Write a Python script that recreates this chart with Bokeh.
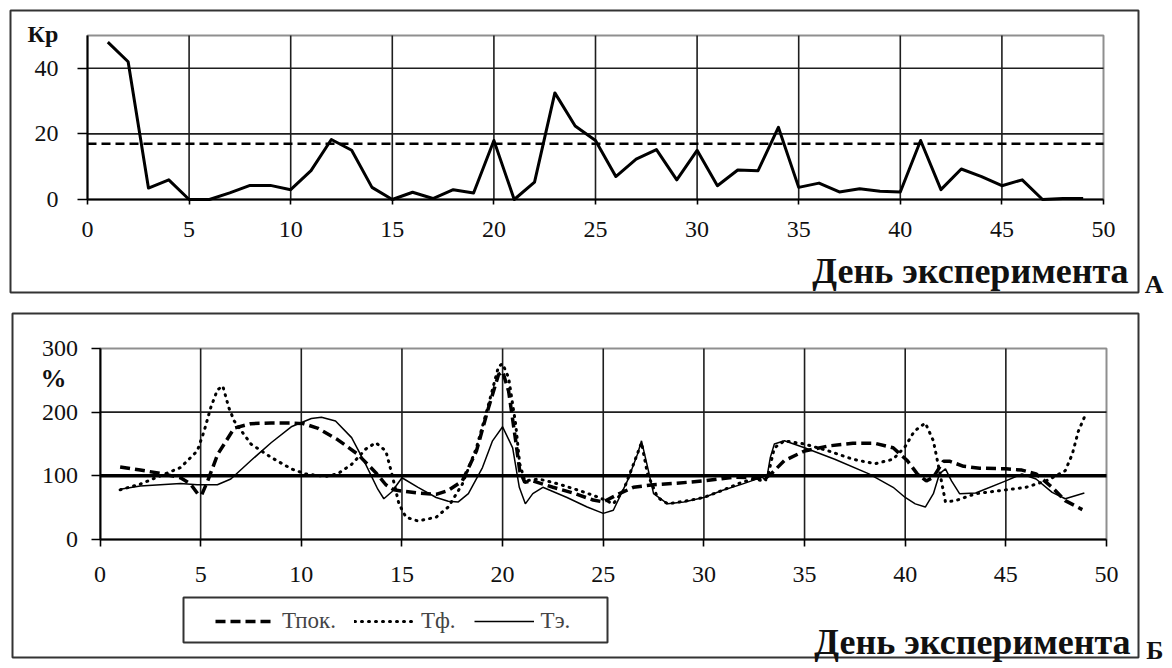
from bokeh.plotting import figure
from bokeh.models import FixedTicker, Label, BoxAnnotation, Legend, LegendItem
from bokeh.layouts import column
from bokeh.embed import file_html
from bokeh.resources import INLINE

FONT = "Liberation Serif"

# ---------------- Panel A data ----------------
days_a = list(range(1, 50))
kr = [48, 42, 3.5, 6, 0, 0, 2, 4.3, 4.3, 3,
      8.8, 18.3, 15, 3.7, 0, 2.2, 0.3, 3, 2, 18,
      0, 5.3, 32.5, 22.4, 18, 7, 12.3, 15.2, 6, 15,
      4.2, 9, 8.8, 22, 3.7, 5, 2.3, 3.3, 2.5, 2.3,
      18, 3, 9.3, 7, 4.2, 6, 0, 0.3, 0.3]
kr_threshold = 17
a_xticks = [0, 5, 10, 15, 20, 25, 30, 35, 40, 45, 50]
a_yticks = [0, 20, 40]
a_ymax = 50

# ---------------- Panel B data ----------------
tpok_day = [1, 2, 3, 4, 4.5, 4.85, 5.05, 5.35, 5.85, 6.67, 7.5, 8.5, 9.5, 10.1, 10.8,
            11.8, 12.8, 13.7, 14.2, 14.6, 15, 15.8, 16.7, 17.3, 18, 18.7, 19.3, 19.8, 20,
            20.3, 20.65, 20.85, 21.1, 21.5, 22.5, 23.5, 24.5, 25, 25.8, 26.5, 27.5, 28.5,
            30, 31.5, 32.5, 33, 33.4, 34, 35, 36.2, 37.4, 38.5, 39.4, 40.1, 40.6, 41.05,
            41.4, 41.9, 42.2, 42.9, 43.7, 45, 45.8, 46.5, 47.3, 47.95, 48.8]
tpok_val = [114, 109, 104, 97, 87, 72, 70, 92, 134, 175, 182, 183, 183, 182, 175,
            157, 134, 105, 86, 78, 76, 73, 71, 77, 92, 139, 207, 259, 264,
            233, 155, 108, 90, 92, 82, 73, 62, 59, 72, 82, 86, 88,
            92, 98, 97, 95, 105, 124, 139, 147, 151, 151, 144, 124, 103, 92,
            98, 123, 123, 115, 112, 111, 109, 103, 82, 61, 47]

tf_day = [1, 2, 3, 4, 4.83, 5.17, 5.5, 5.83, 6.1, 6.4, 6.67, 7.5, 8.5, 9.5, 10.2, 11.2,
          11.8, 12.5, 13.2, 13.7, 14.2, 14.5, 14.85, 15.2, 15.8, 16.7, 17.3, 18, 18.7,
          19.3, 19.8, 20, 20.3, 20.65, 20.85, 21.1, 21.8, 22.8, 23.8, 24.8, 25.5, 26,
          26.5, 26.9, 27.2, 27.7, 28.2, 29.2, 30, 30.9, 31.9, 32.5, 33, 33.2, 33.5, 34,
          35, 36.2, 37.4, 38.5, 39.4, 40, 40.45, 41, 41.4, 41.7, 42, 42.5, 43.5, 45, 46,
          47, 47.95, 48.3, 48.6, 48.9]
tf_val = [78, 87, 100, 113, 139, 170, 207, 235, 241, 207, 186, 150, 129, 111, 103, 99,
          103, 118, 142, 152, 139, 103, 56, 35, 29, 35, 51, 87, 144,
          212, 272, 276, 254, 181, 119, 92, 95, 87, 77, 66, 56, 77,
          118, 152, 103, 66, 56, 61, 66, 77, 90, 95, 92, 103, 144, 155,
          150, 139, 126, 119, 126, 146, 170, 183, 155, 108, 59, 61, 72, 78, 82,
          92, 108, 134, 170, 192]

te_day = [1, 2, 3, 4, 4.83, 5.83, 6.5, 7.5, 8.5, 9.5, 10.5, 11, 11.7, 12.5, 13.2, 13.8,
          14.1, 14.5, 15, 15.8, 16.7, 17.3, 17.8, 18.3, 19, 19.5, 20, 20.5, 20.83, 21.13,
          21.5, 22, 23.2, 24.2, 25, 25.5, 26.2, 26.7, 26.9, 27.2, 27.5, 28.2, 29, 30,
          30.9, 31.9, 32.9, 33.1, 33.3, 33.5, 34, 35, 36.5, 38.2, 39.4, 40, 40.5, 41,
          41.4, 41.7, 42, 42.3, 42.7, 43.5, 45, 45.8, 46.5, 47.3, 47.95, 48.9]
te_val = [79, 84, 86, 88, 86, 86, 95, 124, 152, 177, 190, 192, 186, 160, 118, 79,
          64, 75, 97, 82, 66, 60, 59, 72, 113, 155, 177, 144, 82, 56,
          72, 82, 66, 51, 41, 46, 92, 134, 155, 114, 72, 56, 59, 66,
          77, 87, 98, 92, 129, 150, 155, 144, 126, 103, 82, 66, 56, 51,
          72, 103, 111, 92, 72, 73, 92, 103, 95, 74, 64, 73]
b_ref_level = 100
b_xticks = [0, 5, 10, 15, 20, 25, 30, 35, 40, 45, 50]
b_yticks = [0, 100, 200, 300]

series_names = ["Тпок.", "Тф.", "Тэ."]
x_title = "День эксперимента"

# ---------------- layout (pixels on the page) ----------------
W = 1170
H1 = 298
H2 = 369
TOP1, TOP2 = 0, H1


class Mapper:
    """page-pixel -> data conversion for one panel"""
    def __init__(self, top, height, px0, px1, xv1, py0, py1, yv1):
        self.top, self.height = top, height
        self.px0, self.kx = px0, (px1 - px0) / xv1
        self.py0, self.ky = py0, (py0 - py1) / yv1

    def x(self, px):
        return (px - self.px0) / self.kx

    def y(self, py):
        return (self.py0 - py) / self.ky

    def xr(self):
        return (self.x(0), self.x(W))

    def yr(self):
        return (self.y(self.top + self.height), self.y(self.top))


mA = Mapper(TOP1, H1, 87, 1103, 50, 199, 35, a_ymax)
mB = Mapper(TOP2, H2, 99.5, 1106, 50, 539, 348, b_yticks[-1])


def make_fig(m, height):
    p = figure(width=W, height=height, x_range=m.xr(), y_range=m.yr(),
               output_backend="svg", toolbar_location=None,
               min_border=0, min_border_left=0, min_border_right=0,
               min_border_top=0, min_border_bottom=0)
    p.outline_line_color = None
    p.xgrid.visible = False
    p.ygrid.visible = False
    p.background_fill_color = "white"
    p.border_fill_color = "white"
    return p


def style_axes(p, xticks, yticks, ymax, xtick_out, ytick_out, xstand, ystand):
    p.xaxis.ticker = FixedTicker(ticks=xticks)
    p.yaxis.ticker = FixedTicker(ticks=yticks)
    p.xaxis.fixed_location = yticks[0]
    p.yaxis.fixed_location = xticks[0]
    p.xaxis.bounds = (xticks[0], xticks[-1])
    p.yaxis.bounds = (yticks[0], ymax)
    for ax in (p.xaxis[0], p.yaxis[0]):
        ax.axis_line_color = "black"
        ax.axis_line_width = 2
        ax.major_tick_line_color = "black"
        ax.major_tick_line_width = 1.6
        ax.major_tick_in = 0
        ax.minor_tick_line_color = None
        ax.major_label_text_font = FONT
        ax.major_label_text_font_size = "24px"
        ax.major_label_text_color = "#111111"
    p.xaxis.major_tick_out = xtick_out
    p.yaxis.major_tick_out = ytick_out
    p.xaxis.major_label_standoff = xstand
    p.yaxis.major_label_standoff = ystand


def grid(p, xticks, yticks, gx, gy, ymax):
    # plot-area border (grey) and inner grid lines
    p.add_layout(BoxAnnotation(left=xticks[0], right=xticks[-1], bottom=yticks[0], top=ymax,
                               fill_color=None, fill_alpha=0, line_color="#8f8f8f",
                               line_alpha=1, line_width=2, level="underlay"))
    p.segment(x0=gx, x1=gx, y0=[yticks[0]] * len(gx), y1=[ymax] * len(gx),
              line_color="#1e1e1e", line_width=1.6)
    p.segment(x0=[xticks[0]] * len(gy), x1=[xticks[-1]] * len(gy), y0=gy, y1=gy,
              line_color="#1e1e1e", line_width=1.6)


def lab(p, m, px, py, text, size, bold=True, align="left"):
    # (px, py): page position of the text's left/right edge and vertical middle
    p.add_layout(Label(x=m.x(px), y=m.y(py), text=text,
                       text_font=FONT, text_font_size=size,
                       text_font_style="bold" if bold else "normal",
                       text_align=align, text_baseline="middle",
                       text_color="#111111"))


def box(p, m, l, t, r, b, color="#333333", width=2):
    p.add_layout(BoxAnnotation(left=m.x(l), right=m.x(r), top=m.y(t), bottom=m.y(b),
                               fill_color=None, fill_alpha=0,
                               line_color=color, line_alpha=1, line_width=width,
                               level="underlay"))


# ---------------- Figure A ----------------
p1 = make_fig(mA, H1)
grid(p1, a_xticks, a_yticks, a_xticks[1:-1], a_yticks[1:], a_ymax)
style_axes(p1, a_xticks, a_yticks, a_ymax, 5, 10, 17, 19)
p1.segment(x0=[a_xticks[0]], x1=[a_xticks[-1]], y0=[kr_threshold], y1=[kr_threshold],
           line_color="black", line_width=2.5, line_dash="9 5")
p1.line(days_a, kr, line_width=3, line_color="black", line_join="round")
lab(p1, mA, 27, 33, "Кр", "24px")
lab(p1, mA, 1128, 270, x_title, "36px", align="right")
lab(p1, mA, 1163, 284, "А", "26px", align="right")
box(p1, mA, 10, 10, 1138, 292)

# ---------------- Figure B ----------------
p2 = make_fig(mB, H2)
grid(p2, b_xticks, b_yticks, b_xticks[1:-1], b_yticks[2:-1], b_yticks[-1])
style_axes(p2, b_xticks, b_yticks, b_yticks[-1], 7, 9, 20, 13)
p2.segment(x0=[b_xticks[0]], x1=[b_xticks[-1]], y0=[b_ref_level], y1=[b_ref_level],
           line_color="black", line_width=3.5)
r1 = p2.line(tpok_day, tpok_val, line_width=3.5, line_color="black", line_dash="10 5")
r2 = p2.line(tf_day, tf_val, line_width=3, line_color="black", line_dash="1 6", line_cap="round")
r3 = p2.line(te_day, te_val, line_width=1.5, line_color="black")

legend = Legend(items=[LegendItem(label=series_names[0], renderers=[r1]),
                       LegendItem(label=series_names[1], renderers=[r2]),
                       LegendItem(label=series_names[2], renderers=[r3])],
                orientation="horizontal", location=(205, TOP2 + H2 - 644),
                border_line_alpha=0, background_fill_alpha=0,
                label_text_font=FONT, label_text_font_size="23px",
                glyph_width=60, glyph_height=20, label_standoff=7,
                spacing=18, padding=10, margin=0)
p2.add_layout(legend, "center")
box(p2, mB, 183, 597, 607, 642)

lab(p2, mB, 40, 378, "%", "26px")
lab(p2, mB, 1130, 641, x_title, "36px", align="right")
lab(p2, mB, 1163, 650, "Б", "26px", align="right")
box(p2, mB, 12, 313, 1138, 657)

layout = column(p1, p2, spacing=0)
open("out.html", "w").write(file_html(layout, INLINE))
